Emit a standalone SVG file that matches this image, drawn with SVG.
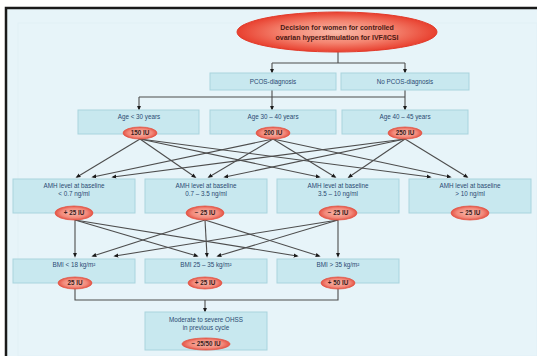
<svg xmlns="http://www.w3.org/2000/svg" width="537" height="356" viewBox="0 0 537 356">
<defs>
<radialGradient id="gTop" cx="0.5" cy="0.5" r="0.5">
<stop offset="0" stop-color="#f9b9a8"/><stop offset="0.55" stop-color="#f48470"/><stop offset="1" stop-color="#e8402f"/>
</radialGradient>
<radialGradient id="gSm" cx="0.5" cy="0.5" r="0.5">
<stop offset="0" stop-color="#f8bcae"/><stop offset="0.7" stop-color="#f2897a"/><stop offset="1" stop-color="#e55446"/>
</radialGradient>
<marker id="arr" viewBox="0 0 6 6" refX="4" refY="3" markerWidth="4.5" markerHeight="4.5" orient="auto">
<path d="M0,0.5 L6,3 L0,5.5 Z" fill="#1a1a1a"/>
</marker>
<style>
.box{fill:#c8e8ef;stroke:#a9d4de;stroke-width:1}
.t{font-family:"Liberation Sans",Arial,sans-serif;font-size:6.3px;fill:#2b4a72;text-anchor:middle}
.te{font-family:"Liberation Sans",Arial,sans-serif;font-size:6.3px;font-weight:bold;fill:#3a2020;text-anchor:middle}
.tt{font-family:"Liberation Sans",Arial,sans-serif;font-size:7px;font-weight:bold;fill:#4a1a14;text-anchor:middle}
.sm{fill:url(#gSm);stroke:#e25545;stroke-width:0.8}
.ln{fill:none;stroke:#4d4d4d;stroke-width:1.1}
.ar{fill:none;stroke:#4d4d4d;stroke-width:1.1;marker-end:url(#arr)}
</style>
</defs>
<rect x="0" y="0" width="537" height="356" fill="#ffffff"/>
<rect x="6" y="8" width="531" height="348" fill="#e7f4f9"/>
<path d="M6,356 V8 H537" fill="none" stroke="#1a1a1a" stroke-width="2.5"/>
<rect x="18" y="23" width="519" height="333" fill="none" stroke="#e1f0f6" stroke-width="1"/>

<g id="connectors">
<path class="ln" d="M338,52 V63 M272,63 H405"/>
<path class="ar" d="M272,63 V72"/>
<path class="ar" d="M405,63 V72"/>
<path class="ln" d="M272,90 V97 M405,90 V97 M139,97 H405"/>
<path class="ar" d="M139,97 V109"/>
<path class="ar" d="M272,97 V109"/>
<path class="ar" d="M405,97 V109"/>
<path class="ar" d="M140,139 L77,177"/>
<path class="ar" d="M140,139 L195,177"/>
<path class="ar" d="M140,139 L319,177"/>
<path class="ar" d="M140,139 L430,177"/>
<path class="ar" d="M273,139 L93,177"/>
<path class="ar" d="M273,139 L209,177"/>
<path class="ar" d="M273,139 L335,177"/>
<path class="ar" d="M273,139 L450,177"/>
<path class="ar" d="M405,139 L113,177"/>
<path class="ar" d="M405,139 L225,177"/>
<path class="ar" d="M405,139 L349,177"/>
<path class="ar" d="M405,139 L467,177"/>
<path class="ar" d="M75,220 L75,256"/>
<path class="ar" d="M75,220 L197,256"/>
<path class="ar" d="M75,220 L297,256"/>
<path class="ar" d="M205,220 L93,256"/>
<path class="ar" d="M205,220 L207,256"/>
<path class="ar" d="M205,220 L319,256"/>
<path class="ar" d="M338,220 L115,256"/>
<path class="ar" d="M338,220 L218,256"/>
<path class="ar" d="M338,220 L338,256"/>
<path class="ln" d="M75,289 V300 H338 V289"/>
<path class="ar" d="M205,300 V311"/>
</g>

<g id="n-decision">
<ellipse cx="337" cy="32" rx="100" ry="20" fill="url(#gTop)" stroke="#e23a2a" stroke-width="1"/>
<text class="tt" x="337" y="30">Decision for women for controlled</text>
<text class="tt" x="337" y="40">ovarian hyperstimulation for IVF/ICSI</text>
</g>

<g id="n-pcos">
<rect class="box" x="210" y="73" width="126" height="17"/>
<text class="t" x="273" y="84">PCOS-diagnosis</text>
</g>
<g id="n-nopcos">
<rect class="box" x="341" y="73" width="128" height="17"/>
<text class="t" x="405" y="84">No PCOS-diagnosis</text>
</g>

<g id="n-age1">
<rect class="box" x="78" y="110" width="121" height="24"/>
<text class="t" x="139" y="119">Age &lt; 30 years</text>
<ellipse class="sm" cx="140" cy="133" rx="17" ry="6"/>
<text class="te" x="140" y="135">150 IU</text>
</g>
<g id="n-age2">
<rect class="box" x="210" y="110" width="126" height="24"/>
<text class="t" x="273" y="119">Age 30 – 40 years</text>
<ellipse class="sm" cx="273" cy="133" rx="17" ry="6"/>
<text class="te" x="273" y="135">200 IU</text>
</g>
<g id="n-age3">
<rect class="box" x="342" y="110" width="126" height="24"/>
<text class="t" x="405" y="119">Age 40 – 45 years</text>
<ellipse class="sm" cx="405" cy="133" rx="17" ry="6"/>
<text class="te" x="405" y="135">250 IU</text>
</g>

<g id="n-amh1">
<rect class="box" x="13" y="179" width="122" height="34"/>
<text class="t" x="74" y="188">AMH level at baseline</text>
<text class="t" x="74" y="196">&lt; 0.7 ng/ml</text>
<ellipse class="sm" cx="74" cy="213" rx="19" ry="7"/>
<text class="te" x="74" y="215">+ 25 IU</text>
</g>
<g id="n-amh2">
<rect class="box" x="145" y="179" width="122" height="34"/>
<text class="t" x="206" y="188">AMH level at baseline</text>
<text class="t" x="206" y="196">0.7 – 3.5 ng/ml</text>
<ellipse class="sm" cx="205" cy="213" rx="19" ry="7"/>
<text class="te" x="205" y="215">− 25 IU</text>
</g>
<g id="n-amh3">
<rect class="box" x="277" y="179" width="122" height="34"/>
<text class="t" x="338" y="188">AMH level at baseline</text>
<text class="t" x="338" y="196">3.5 – 10 ng/ml</text>
<ellipse class="sm" cx="338" cy="213" rx="19" ry="7"/>
<text class="te" x="338" y="215">− 25 IU</text>
</g>
<g id="n-amh4">
<rect class="box" x="409" y="179" width="122" height="34"/>
<text class="t" x="470" y="188">AMH level at baseline</text>
<text class="t" x="470" y="196">&gt; 10 ng/ml</text>
<ellipse class="sm" cx="470" cy="213" rx="19" ry="7"/>
<text class="te" x="470" y="215">− 25 IU</text>
</g>

<g id="n-bmi1">
<rect class="box" x="13" y="259" width="122" height="24"/>
<text class="t" x="74" y="267">BMI &lt; 18 kg/m²</text>
<ellipse class="sm" cx="75" cy="283" rx="17" ry="6"/>
<text class="te" x="75" y="285">25 IU</text>
</g>
<g id="n-bmi2">
<rect class="box" x="145" y="259" width="122" height="24"/>
<text class="t" x="206" y="267">BMI 25 – 35 kg/m²</text>
<ellipse class="sm" cx="205" cy="283" rx="17" ry="6"/>
<text class="te" x="205" y="285">+ 25 IU</text>
</g>
<g id="n-bmi3">
<rect class="box" x="277" y="259" width="122" height="24"/>
<text class="t" x="338" y="267">BMI &gt; 35 kg/m²</text>
<ellipse class="sm" cx="338" cy="283" rx="17" ry="6"/>
<text class="te" x="338" y="285">+ 50 IU</text>
</g>

<g id="n-ohss">
<rect class="box" x="145" y="312" width="122" height="38"/>
<text class="t" x="206" y="322">Moderate to severe OHSS</text>
<text class="t" x="206" y="330">in previous cycle</text>
<ellipse class="sm" cx="206" cy="344" rx="24" ry="6"/>
<text class="te" x="206" y="346">− 25/50 IU</text>
</g>
</svg>
